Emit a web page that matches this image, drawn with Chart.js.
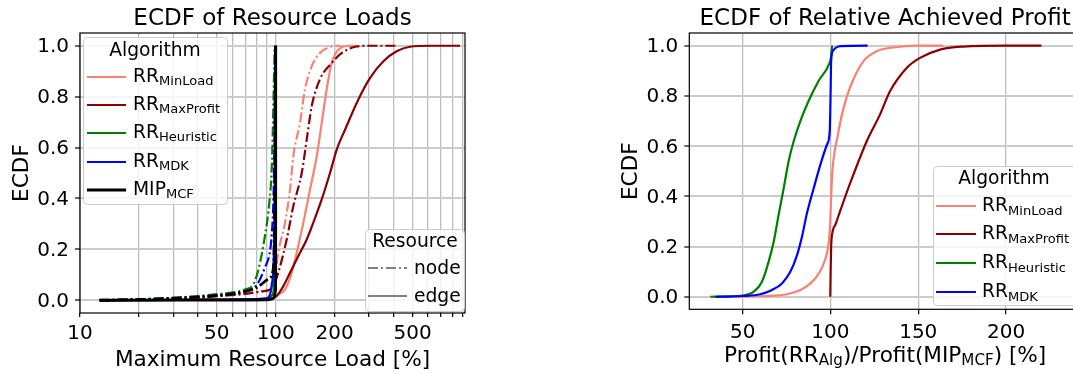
<!DOCTYPE html>
<html>
<head>
<meta charset="utf-8">
<script src="https://cdn.jsdelivr.net/npm/chart.js@4.4.1/dist/chart.umd.min.js"></script>
<style>
  html, body { margin: 0; padding: 0; background: #fff; overflow: hidden; width: 1073px; height: 374px; }
  #c1 { position: absolute; left: 0; top: 0; }
  #c2 { position: absolute; left: 600px; top: 0; }
</style>
</head>
<body>
<canvas id="c1" width="545" height="374"></canvas>
<canvas id="c2" width="570" height="374"></canvas>
<script>
// ---- data: [value, ECDF] ----
const loadMinLoadNode = [[12.6,0],[20,0.003],[30,0.008],[50,0.018],[70,0.028],[85,0.036],[95,0.045],[99,0.09],[103,0.187],[111.6,0.305],[118.3,0.435],[123,0.566],[133,0.697],[141,0.827],[152.7,0.919],[168,0.971],[193,0.997],[205,1.0],[215,1.0]];
const loadMinLoadEdge = [[12.6,0],[50,0.003],[90,0.006],[97,0.01],[101,0.02],[111.6,0.043],[120.7,0.108],[128,0.187],[138.4,0.305],[149.7,0.435],[162,0.566],[171.8,0.697],[182,0.827],[193,0.932],[213,0.99],[240,1.0],[260,1.0]];
const loadMaxProfitNode = [[12.6,0],[20,0.003],[30,0.007],[50,0.016],[70,0.025],[85,0.035],[95,0.045],[99,0.07],[103,0.108],[113.8,0.239],[123,0.37],[135.8,0.5],[144,0.631],[152.7,0.762],[168,0.867],[193,0.932],[217,0.971],[259,0.997],[300,1.0],[415,1.0]];
const loadMaxProfitEdge = [[12.6,0],[50,0.002],[90,0.005],[97,0.01],[101.2,0.017],[109.4,0.056],[118.3,0.108],[130.5,0.174],[144,0.239],[155.6,0.305],[171.8,0.396],[189.4,0.5],[205,0.592],[226,0.67],[264,0.788],[303,0.873],[355,0.939],[415,0.978],[485,0.996],[614,1.0],[875,1.0]];
const loadHeuristicNode = [[12.6,0],[20,0.004],[30,0.01],[50,0.024],[70,0.043],[77,0.063],[82,0.128],[88.3,0.258],[92.9,0.388],[95.4,0.518],[96.5,0.648],[97.5,0.8],[98.8,1.0]];
const loadHeuristicEdge = [[12.6,0],[50,0.002],[90,0.006],[96,0.02],[98.5,0.1],[99.5,0.5],[100,1.0]];
const loadMdkNode = [[12.6,0],[20,0.003],[30,0.008],[50,0.02],[70,0.035],[80,0.06],[88,0.128],[93.5,0.193],[95.4,0.258],[97.3,0.388],[98.5,0.6],[99.3,0.85],[99.8,1.0]];
const loadMdkEdge = [[12.6,0],[50,0.002],[90,0.008],[93.6,0.023],[95.4,0.06],[97.3,0.13],[98.5,0.3],[99.5,0.7],[100,1.0]];
const loadMipNode = [[12.6,0],[20,0.003],[30,0.008],[50,0.018],[70,0.035],[80,0.05],[93.6,0.09],[97,0.12],[98.5,0.3],[99.5,0.9],[100,1.0]];
const loadMipEdge = [[12.6,0],[50,0.001],[90,0.002],[95,0.004],[98,0.01],[99.5,0.03],[99.95,0.1],[100,1.0]];

const profitMinLoad = [[36,0],[63.9,0.003],[75.3,0.01],[82.9,0.027],[88.6,0.053],[93.4,0.093],[97.2,0.153],[99.1,0.22],[99.9,0.3],[100.4,0.4],[101.1,0.5],[102.3,0.575],[103.8,0.63],[106.6,0.727],[111,0.83],[118.7,0.937],[126.3,0.977],[135.8,0.993],[149.1,1.0],[164.2,1.0]];
const profitMaxProfit = [[99.9,0],[100.1,0.1],[100.4,0.2],[101,0.25],[103,0.29],[105.4,0.339],[109,0.41],[113,0.485],[120.6,0.618],[128.2,0.725],[133.9,0.818],[143.4,0.911],[151,0.951],[162.4,0.984],[175.6,0.996],[200,1.0],[220.2,1.0]];
const profitHeuristic = [[31.6,0],[50,0.005],[56.3,0.02],[61,0.06],[64.8,0.14],[67.7,0.22],[70.5,0.327],[73.4,0.433],[76.2,0.54],[79.1,0.62],[82.9,0.7],[87.6,0.78],[93.3,0.86],[99.3,0.927],[100.2,0.95],[101,1.0]];
const profitMdk = [[34.4,0],[50,0.003],[60,0.01],[66.7,0.027],[72.4,0.053],[77.2,0.1],[81,0.167],[83.8,0.24],[86.7,0.335],[90.5,0.433],[94.3,0.527],[98.1,0.607],[99.6,0.66],[100,0.78],[100.4,0.94],[101.5,0.98],[105.7,0.998],[121.2,1.0]];

const ecdfTicks = [0, 0.2, 0.4, 0.6, 0.8, 1.0];
const loadTicks = [10, 20, 30, 40, 50, 60, 70, 80, 90, 100, 200, 300, 400, 500, 600, 700, 800, 900];
const loadTickLabels = [10, 50, 100, 200, 500];
const profitTicks = [50, 100, 150, 200];

const algNames = [
  [['RR', 0], ['MinLoad', 1]],
  [['RR', 0], ['MaxProfit', 1]],
  [['RR', 0], ['Heuristic', 1]],
  [['RR', 0], ['MDK', 1]],
  [['MIP', 0], ['MCF', 1]]
];
const algColors = ['#fa8072', '#8b0000', '#008000', '#0000ff', '#000000'];
const resourceNames = ['node', 'edge'];

const FONT = '"DejaVu Sans"';
const DASHDOT = [10, 3, 2, 3];

function line(points, color, dashed, width) {
  return {
    data: points.map(p => ({ x: p[0], y: p[1] })),
    borderColor: color,
    borderWidth: width || 2.2,
    borderDash: dashed ? DASHDOT : [],
    pointRadius: 0,
    fill: false,
    cubicInterpolationMode: 'monotone'
  };
}

function rich(ctx, parts, x, y, size, align) {
  const sub = size * 0.7;
  let w = 0;
  parts.forEach(([t, s]) => { ctx.font = (s ? sub : size) + 'px ' + FONT; w += ctx.measureText(t).width; });
  let cx = align === 'center' ? x - w / 2 : x;
  ctx.textAlign = 'left';
  ctx.textBaseline = 'alphabetic';
  parts.forEach(([t, s]) => {
    ctx.font = (s ? sub : size) + 'px ' + FONT;
    ctx.fillText(t, cx, s ? y + 3.5 : y);
    cx += ctx.measureText(t).width;
  });
}

function drawLegend(ctx, lg) {
  const [bx, by, bw, bh] = lg.box;
  ctx.save();
  ctx.fillStyle = 'rgba(255,255,255,0.8)';
  ctx.strokeStyle = '#cccccc';
  ctx.lineWidth = 1;
  ctx.beginPath();
  ctx.roundRect(bx + 0.5, by + 0.5, bw, bh, 4);
  ctx.fill();
  ctx.stroke();
  ctx.fillStyle = '#000';
  rich(ctx, [[lg.title, 0]], lg.titleX, lg.titleBase, 18.7, 'center');
  lg.items.forEach((it, i) => {
    const y = lg.ys[i];
    ctx.strokeStyle = it.color;
    ctx.lineWidth = it.width || 2.2;
    ctx.setLineDash(it.dash || []);
    ctx.beginPath();
    ctx.moveTo(lg.hx[0], y);
    ctx.lineTo(lg.hx[1], y);
    ctx.stroke();
    ctx.setLineDash([]);
    ctx.fillStyle = '#000';
    rich(ctx, it.parts, lg.tx, y + lg.dy, 18.7, 'left');
  });
  ctx.restore();
}

const decor = {
  id: 'decor',
  afterDraw(chart, args, o) {
    const ctx = chart.ctx, a = chart.chartArea;
    ctx.save();
    ctx.strokeStyle = '#000';
    ctx.lineWidth = 1.2;
    ctx.strokeRect(a.left, a.top, a.right - a.left, a.bottom - a.top);
    ctx.fillStyle = '#000';
    const mid = (a.left + a.right) / 2;
    rich(ctx, [[o.title, 0]], mid, 25, 23, 'center');
    rich(ctx, o.xLabel, mid, o.xBase, 21.6, 'center');
    ctx.save();
    ctx.translate(o.yBase, (a.top + a.bottom) / 2);
    ctx.rotate(-Math.PI / 2);
    rich(ctx, [['ECDF', 0]], 0, 0, 21.6, 'center');
    ctx.restore();
    o.legends.forEach(lg => drawLegend(ctx, lg));
    ctx.restore();
  }
};

function yScale(width) {
  return {
    type: 'linear', min: -0.05, max: 1.05,
    afterBuildTicks: s => { s.ticks = ecdfTicks.map(v => ({ value: v })); },
    afterFit: s => { s.width = width; },
    ticks: { callback: v => v.toFixed(1), font: { family: 'DejaVu Sans', size: 20 }, color: '#000', padding: 6, labelOffset: 1.5 },
    grid: { color: '#cbcbcb', lineWidth: 2, tickColor: '#000', tickLength: 5, tickWidth: 1.2 },
    border: { display: false }
  };
}

// ---- left: resource loads ----
const loadSeries = [
  [loadMinLoadNode, loadMinLoadEdge],
  [loadMaxProfitNode, loadMaxProfitEdge],
  [loadHeuristicNode, loadHeuristicEdge],
  [loadMdkNode, loadMdkEdge],
  [loadMipNode, loadMipEdge]
];
const leftSets = [];
loadSeries.forEach((pair, i) => {
  const w = i === 4 ? 2.8 : 2.2;
  leftSets.push(line(pair[0], algColors[i], true, w));
  leftSets.push(line(pair[1], algColors[i], false, w));
});
leftSets.forEach((d, i) => { d.order = -i; });

new Chart(document.getElementById('c1'), {
  type: 'line',
  data: { datasets: leftSets },
  options: {
    responsive: false, animation: false,
    layout: { padding: { top: 33, right: 80, bottom: 0, left: 0 } },
    plugins: {
      legend: { display: false }, tooltip: { enabled: false },
      decor: {
        title: 'ECDF of Resource Loads',
        xLabel: [['Maximum Resource Load [%]', 0]], xBase: 365.5, yBase: 27.5,
        legends: [
          {
            box: [83, 37, 144, 167], title: 'Algorithm', titleX: 155, titleBase: 56,
            hx: [87, 126], tx: 133, dy: 4.7, ys: [77, 105, 133, 162, 190],
            items: algNames.map((n, i) => ({ parts: n, color: algColors[i], width: i === 4 ? 2.8 : 2.2 }))
          },
          {
            box: [365, 229, 99, 82], title: 'Resource', titleX: 415, titleBase: 247,
            hx: [368, 407], tx: 414, dy: 6, ys: [268, 296],
            items: [
              { parts: [[resourceNames[0], 0]], color: '#808080', dash: DASHDOT },
              { parts: [[resourceNames[1], 0]], color: '#808080' }
            ]
          }
        ]
      }
    },
    scales: {
      x: {
        type: 'logarithmic', min: 10, max: 927,
        afterBuildTicks: s => { s.ticks = loadTicks.map(v => ({ value: v })); },
        afterFit: s => { s.height = 61; },
        ticks: {
          autoSkip: false, maxRotation: 0, padding: 5, color: '#000',
          font: { family: 'DejaVu Sans', size: 20 },
          callback: v => loadTickLabels.includes(v) ? String(v) : ''
        },
        grid: { color: '#bdbdbd', lineWidth: 1.3, tickColor: '#000', tickLength: 4, tickWidth: 1.2 },
        border: { display: false }
      },
      y: yScale(80)
    }
  },
  plugins: [decor]
});

// ---- right: relative achieved profit ----
const profitSeries = [profitMinLoad, profitMaxProfit, profitHeuristic, profitMdk];
const rightSets = profitSeries.map((s, i) => line(s, algColors[i], false, 2.2));
rightSets.forEach((d, i) => { d.order = -i; });

new Chart(document.getElementById('c2'), {
  type: 'line',
  data: { datasets: rightSets },
  options: {
    responsive: false, animation: false,
    layout: { padding: { top: 33, right: 89, bottom: 0, left: 0 } },
    plugins: {
      legend: { display: false }, tooltip: { enabled: false },
      decor: {
        title: 'ECDF of Relative Achieved Profit',
        xLabel: [['Profit(RR', 0], ['Alg', 1], [')/Profit(MIP', 0], ['MCF', 1], [') [%]', 0]],
        xBase: 361.5, yBase: 36.5,
        legends: [
          {
            box: [333, 166, 160, 139], title: 'Algorithm', titleX: 404, titleBase: 184,
            hx: [336, 376], tx: 382, dy: 5, ys: [206, 234, 263, 292],
            items: algNames.slice(0, 4).map((n, i) => ({ parts: n, color: algColors[i] }))
          }
        ]
      }
    },
    scales: {
      x: {
        type: 'linear', min: 19.6, max: 242.7,
        afterBuildTicks: s => { s.ticks = profitTicks.map(v => ({ value: v })); },
        afterFit: s => { s.height = 64.7; },
        ticks: { autoSkip: false, maxRotation: 0, padding: 6, color: '#000', font: { family: 'DejaVu Sans', size: 20 } },
        grid: { color: '#bdbdbd', lineWidth: 1.3, tickColor: '#000', tickLength: 5, tickWidth: 1.2 },
        border: { display: false }
      },
      y: yScale(89.3)
    }
  },
  plugins: [decor]
});
</script>
</body>
</html>
